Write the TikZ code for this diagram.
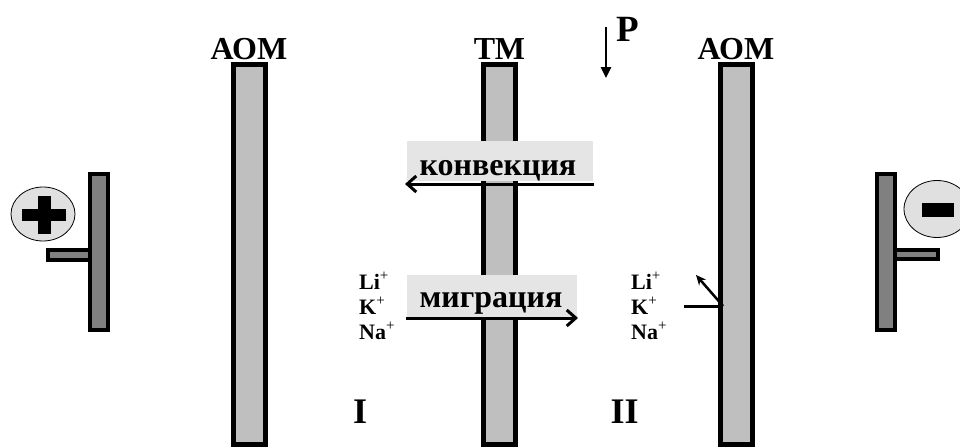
\documentclass[tikz,border=0pt]{standalone}
\usepackage{fontspec}
\setmainfont{Liberation Serif}
\usetikzlibrary{arrows.meta,shapes.geometric}
\newcommand{\cat}{\raisebox{0.38em}{\mdseries\fontsize{15}{15}\selectfont+}}

\begin{document}
\begin{tikzpicture}[x=1pt,y=-1pt,
    membrane/.style={rectangle,draw,line width=5pt,fill=black!25,minimum width=32pt,minimum height=380pt,inner sep=0pt},
    plate/.style={rectangle,draw,line width=4pt,fill=black!50,inner sep=0pt},
    pole/.style={ellipse,draw,line width=0.8pt,fill=black!12,inner sep=0pt},
    flowbox/.style={rectangle,fill=black!10,inner sep=0pt},
    title/.style={font=\bfseries\fontsize{32}{32}\selectfont,anchor=base,inner sep=0pt},
    flowtext/.style={font=\bfseries\fontsize{32}{32}\selectfont,anchor=base,inner sep=0pt},
    ion/.style={font=\bfseries\fontsize{22}{22}\selectfont,anchor=base west,inner sep=0pt},
    flow/.style={line width=3pt,-{Straight Barb[length=9pt,width=16pt,line width=3pt]}}]

    \useasboundingbox (0,0) rectangle (960,447);

    \node[membrane] (aomL) at (249,254.5) {};
    \node[membrane] (tm) at (499.5,254.5) {};
    \node[membrane] (aomR) at (736,254.5) {};

    \node[title] (aomLname) at (249,59) {АОМ};
    \node[title] (tmname) at (499.5,59) {ТМ};
    \node[title] (aomRname) at (736,59) {АОМ};

    \node[plate,minimum width=42pt,minimum height=10pt] (leadL) at (69,255) {};
    \node[plate,minimum width=18pt,minimum height=156pt] (plateL) at (99,252) {};
    \node[plate,minimum width=43pt,minimum height=9pt] (leadR) at (916.5,254) {};
    \node[plate,minimum width=18pt,minimum height=156pt] (plateR) at (886,252) {};

    \node[pole,minimum width=64pt,minimum height=54pt] (poleL) at (43,214) {};
    \node[pole,minimum width=66pt,minimum height=57pt] (poleR) at (937,209) {};
    \fill (22,209) rectangle (66,221);
    \fill (37.5,196) rectangle (50.5,234);
    \fill (922,203) rectangle (954,217);

    \coordinate (pstart) at (606,27);
    \coordinate (pend) at (606,78);
    \draw[line width=2.5pt,-{Triangle[length=11pt,width=10pt]}] (pstart) -- (pend);
    \node[font=\bfseries\fontsize{37}{37}\selectfont,anchor=base,inner sep=0pt] (pname) at (628,41) {P};

    \node[flowbox,minimum width=186pt,minimum height=40pt] (convbox) at (500,161) {};
    \node[flowtext] (convtext) at (498,175) {конвекция};
    \coordinate (convstart) at (594,184);
    \coordinate (convend) at (405,184);
    \draw[flow] (convstart) -- (convend);

    \node[flowbox,minimum width=170pt,minimum height=42pt] (migbox) at (492,296) {};
    \node[flowtext] (migtext) at (491,307) {миграция};
    \coordinate (migstart) at (406,318);
    \coordinate (migend) at (578,318);
    \draw[flow] (migstart) -- (migend);

    \node[ion] (liL) at (359,289) {Li\cat};
    \node[ion] (kL) at (359,314) {K\cat};
    \node[ion] (naL) at (359,339) {Na\cat};
    \node[ion] (liR) at (631,289) {Li\cat};
    \node[ion] (kR) at (631,314) {K\cat};
    \node[ion] (naR) at (631,339) {Na\cat};

    \coordinate (hitstart) at (684,306);
    \coordinate (hitpoint) at (723,306);
    \coordinate (bounce) at (696,275);
    \draw[line width=3pt] (hitstart) -- (hitpoint);
    \draw[line width=2.5pt,-{Stealth[length=10pt,width=9pt]}] (hitpoint) -- (bounce);

    \node[font=\bfseries\fontsize{36}{36}\selectfont,anchor=base,inner sep=0pt] (room1) at (360,423) {I};
    \node[font=\bfseries\fontsize{36}{36}\selectfont,anchor=base,inner sep=0pt] (room2) at (624.5,423) {II};
\end{tikzpicture}
\end{document}
